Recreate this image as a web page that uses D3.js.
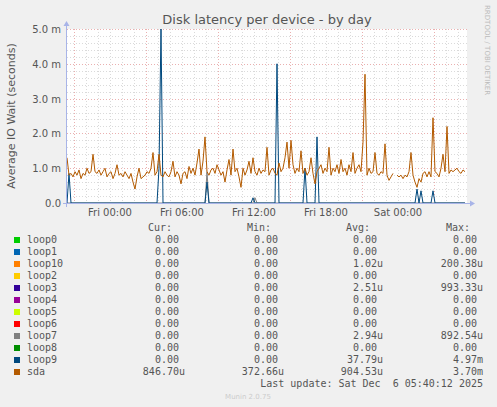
<!DOCTYPE html>
<html><head><meta charset="utf-8">
<script src="https://cdn.jsdelivr.net/npm/d3@7"></script>
<style>body{margin:0;background:#f0f0f0}svg{display:block}</style>
</head><body><svg id="c" width="497" height="407"></svg>
<script>
// sampled every 10 minutes, values in milliseconds
var sda = [1.3,0.8,0.85,0.75,0.9,0.8,0.95,0.7,0.85,0.8,1.0,0.85,0.9,1.4,0.9,0.85,0.95,0.8,0.9,1.0,
  0.75,0.85,0.9,0.7,0.85,1.1,0.8,0.85,0.75,0.9,0.8,0.7,0.85,0.6,0.4,0.75,1.0,0.7,0.75,0.8,
  0.9,0.85,1.0,1.45,0.8,0.9,1.4,0.8,0.75,0.9,0.8,0.75,0.9,1.2,0.75,0.9,0.8,0.55,0.85,0.9,
  0.7,1.05,0.85,1.0,0.8,1.15,1.55,0.8,1.2,1.9,0.9,0.8,0.95,1.0,0.85,1.1,0.95,0.8,0.9,0.6,
  0.95,1.25,0.8,1.55,0.9,1.0,0.75,0.45,1.0,0.8,0.95,1.2,0.85,1.3,0.9,0.8,1.0,0.85,0.95,0.9,
  1.6,0.8,0.95,1.0,0.85,0.8,1.15,0.9,1.0,1.3,1.75,1.0,1.8,1.1,0.85,1.0,0.9,1.5,0.85,1.0,
  0.8,0.9,1.3,0.85,0.55,0.9,1.0,1.1,0.85,1.0,0.9,1.6,0.8,1.0,0.9,1.1,0.85,1.25,0.9,1.0,
  0.8,1.1,0.9,1.45,0.85,1.0,1.1,0.9,1.75,3.7,0.8,1.0,0.85,0.9,1.45,0.85,0.8,0.9,0.85,1.7,
  0.8,0.65,0.75,0.85,null,0.8,0.75,0.8,0.7,0.8,0.75,0.9,1.45,0.8,0.6,0.45,0.7,0.6,0.85,0.9,
  0.75,0.9,0.75,2.45,0.9,0.85,0.75,1.0,1.4,0.9,2.2,0.85,0.95,0.9,0.95,1.0,0.9,0.85,0.95,0.9];
var loop9Idx = [1,46,47,70,93,105,119,125,175,177,183];
var loop9Val = [0.85,1.0,5.0,0.6,0.15,4.0,1.0,1.9,0.4,0.35,0.35];
var loop7Idx = [70,94];
var loop7Val = [0.9,0.15];
var yTicks = [0,1,2,3,4,5];
var xTickLabels = ["Fri 00:00","Fri 06:00","Fri 12:00","Fri 18:00","Sat 00:00"];

var names = ["loop0","loop1","loop10","loop2","loop3","loop4","loop5","loop6","loop7","loop8","loop9","sda"];
var colors = ["#00cc00","#0066b3","#ff8000","#ffcc00","#330099","#990099","#ccff00","#ff0000","#808080","#008f00","#00487d","#b35a00"];
var cur = ["0.00","0.00","0.00","0.00","0.00","0.00","0.00","0.00","0.00","0.00","0.00","846.70u"];
var mins = ["0.00","0.00","0.00","0.00","0.00","0.00","0.00","0.00","0.00","0.00","0.00","372.66u"];
var avgs = ["0.00","0.00","1.02u","0.00","2.51u","0.00","0.00","0.00","2.94u","0.00","37.79u","904.53u"];
var maxs = ["0.00","0.00","200.38u","0.00","993.33u","0.00","0.00","0.00","892.54u","0.00","4.97m","3.70m"];

var svg = d3.select("#c");
var L = 67, R = 467, T = 29, B = 203;
var t0 = new Date(2025, 11, 4, 20, 25);
var step = 600000;
var tEnd = new Date(+t0 + 200 * step);
var x = d3.scaleTime().domain([t0, tEnd]).range([L, R]);
var y = d3.scaleLinear().domain([0, 5]).range([B, T]);

svg.append("rect").attr("x", L).attr("y", T).attr("width", R - L).attr("height", B - T).attr("fill", "#fff");

// grid
var g = svg.append("g");
x.ticks(d3.timeHour.every(1)).forEach(function(d) {
  var major = d.getHours() % 6 == 3;
  g.append("line").attr("x1", x(d) + .5).attr("x2", x(d) + .5).attr("y1", T).attr("y2", B)
    .attr("stroke", major ? "#eab0b0" : "#dadada").attr("stroke-dasharray", "1,2");
});
d3.range(0, 5.01, 0.2).forEach(function(v) {
  var major = Math.abs(v - Math.round(v)) < 1e-6;
  g.append("line").attr("x1", L).attr("x2", R).attr("y1", Math.round(y(v)) + .5).attr("y2", Math.round(y(v)) + .5)
    .attr("stroke", major ? "#eab0b0" : "#dadada").attr("stroke-dasharray", "1,2");
});

function expand(idx, val) {
  var a = sda.map(function() { return 0; });
  idx.forEach(function(i, k) { a[i] = val[k]; });
  return a;
}
var line = d3.line().defined(function(d) { return d != null; })
  .x(function(d, i) { return x(new Date(+t0 + i * step)); }).y(function(d) { return y(d); });
[[expand(loop7Idx, loop7Val), "#808080"], [expand(loop9Idx, loop9Val), "#00487d"], [sda, "#b35a00"]].forEach(function(s) {
  svg.append("path").datum(s[0]).attr("d", line).attr("fill", "none").attr("stroke", s[1]).attr("stroke-width", 1);
});

// axes
var axc = "#a8b4e8";
svg.append("line").attr("x1", 63).attr("x2", 470).attr("y1", B + .5).attr("y2", B + .5).attr("stroke", axc);
svg.append("path").attr("d", "M470,200.5L475,203.5L470,206.5Z").attr("fill", axc);
svg.append("line").attr("x1", L - .5).attr("x2", L - .5).attr("y1", 207).attr("y2", 26).attr("stroke", axc);
svg.append("path").attr("d", "M63.5,26L66.5,21L69.5,26Z").attr("fill", axc);

var font = "DejaVu Sans, sans-serif";
yTicks.forEach(function(v) {
  svg.append("text").attr("x", 61).attr("y", y(v) + 4).attr("text-anchor", "end")
    .attr("font-family", font).attr("font-size", 10).attr("fill", "#555")
    .text(v == 0 ? "0.0" : v.toFixed(1) + " m");
});
var xt = [0, 6, 12, 18, 24].map(function(h) { return new Date(2025, 11, 5, h); });
xt.forEach(function(d, i) {
  svg.append("text").attr("x", x(d)).attr("y", 216).attr("text-anchor", "middle")
    .attr("font-family", font).attr("font-size", 10).attr("fill", "#555").text(xTickLabels[i]);
});

svg.append("text").attr("x", 267).attr("y", 24).attr("text-anchor", "middle")
  .attr("font-family", font).attr("font-size", 13).attr("fill", "#555").text("Disk latency per device - by day");
svg.append("text").attr("transform", "translate(15,116) rotate(-90)").attr("text-anchor", "middle")
  .attr("font-family", font).attr("font-size", 11).attr("fill", "#555").text("Average IO Wait (seconds)");
svg.append("text").attr("transform", "translate(485,5) rotate(90)")
  .attr("font-family", font).attr("font-size", 7).attr("fill", "#bbb").text("RRDTOOL / TOBI OETIKER");

// legend
var mono = "DejaVu Sans Mono, monospace";
var hdr = [["Cur:", 172], ["Min:", 271], ["Avg:", 370], ["Max:", 470]];
hdr.forEach(function(h) {
  svg.append("text").attr("x", h[1]).attr("y", 231).attr("text-anchor", "end")
    .attr("font-family", mono).attr("font-size", 10).attr("fill", "#555").text(h[0]);
});
function pad(s) { return /[um]$/.test(s) ? s : s + "\u00a0"; }
names.forEach(function(n, i) {
  var yy = 243 + i * 12;
  svg.append("rect").attr("x", 14).attr("y", yy - 6).attr("width", 6).attr("height", 6).attr("fill", colors[i]);
  svg.append("text").attr("x", 27).attr("y", yy).attr("font-family", mono).attr("font-size", 10).attr("fill", "#555").text(n);
  [[cur, 185], [mins, 284], [avgs, 383], [maxs, 483]].forEach(function(c) {
    svg.append("text").attr("x", c[1]).attr("y", yy).attr("text-anchor", "end").attr("xml:space", "preserve")
      .attr("font-family", mono).attr("font-size", 10).attr("fill", "#555").text(pad(c[0][i]));
  });
});
svg.append("text").attr("x", 483).attr("y", 387).attr("text-anchor", "end").attr("xml:space", "preserve")
  .attr("font-family", mono).attr("font-size", 10).attr("fill", "#555").text("Last update: Sat Dec  6 05:40:12 2025");
svg.append("text").attr("x", 248).attr("y", 399).attr("text-anchor", "middle")
  .attr("font-family", font).attr("font-size", 7).attr("fill", "#ccc").text("Munin 2.0.75");
</script></body></html>
